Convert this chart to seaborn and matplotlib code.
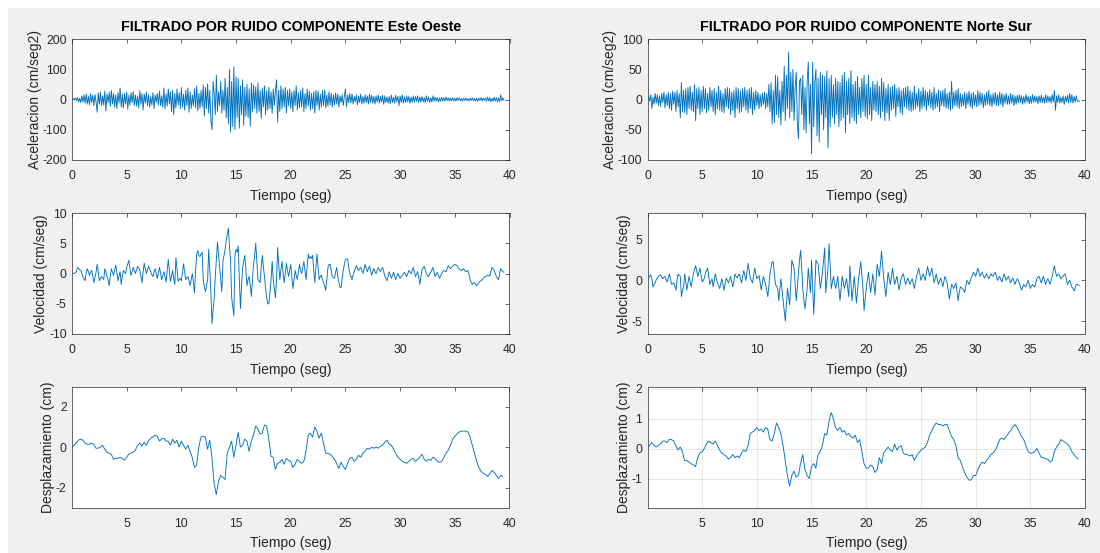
import numpy as np
import pandas as pd
import seaborn as sns
import matplotlib
matplotlib.use("Agg")
import matplotlib.pyplot as plt
from matplotlib.patches import Rectangle

# ---------------------------------------------------------------------------
# Records (filtered), East-West and North-South components
# acceleration and velocity sampled every 0.1 s, displacement every 0.2 s
# ---------------------------------------------------------------------------
dt_fast = 0.1
dt_disp = 0.2

acc_ew = [
    0, 3, -2, 5, -4, 6, -8, 4, -10, 12,
    -8, 15, -12, 18, -15, 10, -18, 20, -10, 14,
    -20, 16, -8, -42, 22, -15, 25, -20, 12, -18,
    28, -38, 18, -10, 24, -22, 30, -15, 20, -25,
    15, -30, 22, -12, 38, -25, 18, -28, 20, -15,
    25, -32, 14, -18, 22, -10, 26, -20, 15, -22,
    12, -28, 30, -15, 20, -35, 18, -12, 25, -20,
    16, -25, 10, -18, 22, -30, 15, -10, 20, -18,
    28, -20, 12, -25, 38, -30, 18, -22, 35, -15,
    25, -40, 30, -50, 20, -28, 35, -18, 22, -30,
    40, -25, 18, -35, 30, -20, 38, -42, 25, -30,
    15, -22, 35, -28, 45, -38, 20, -30, 30, -25,
    48, -55, 40, -30, 52, -45, 30, -70, -100, 60,
    20, -50, 80, -40, 25, -20, 60, -45, 30, -35,
    70, -60, 40, -80, 100, -108, 60, -90, 108, -100,
    75, -60, 70, -95, 45, -50, 65, -85, 40, -55,
    50, -60, 35, -88, 55, -40, 48, -30, 42, -45,
    55, -40, 30, -62, 38, -25, 45, -50, 30, -35,
    40, -30, 25, -45, 35, -20, 30, 65, -75, 30,
    -40, 45, -30, 35, -25, 40, -45, 30, -20, 35,
    -30, 25, -40, 30, -20, 45, -35, 22, -28, 30,
    -25, 38, -40, 20, -30, 35, -22, 28, -35, 20,
    -30, 25, -45, 30, -20, 28, -35, 18, -25, 30,
    -20, 32, -28, 15, -22, 25, -18, 20, -25, 15,
    -18, 22, -15, 18, -25, 12, -10, 15, -20, 10,
    35, -25, 15, -10, 20, -12, 18, -15, 10, -8,
    15, -18, 12, -10, 18, -15, 10, -12, 16, -10,
    12, -15, 18, -10, 14, -12, 10, -15, 12, -8,
    15, -12, 10, -8, 14, -16, 12, -10, 8, -12,
    10, -14, 15, -10, 8, -12, 14, -8, 10, -20,
    12, -10, 15, -12, 8, -10, 12, -8, 10, -12,
    8, -10, 12, -8, 10, -6, 12, -10, 8, -8,
    10, -8, 6, -10, 12, -6, 8, -10, 6, -8,
    12, -6, 8, -5, 6, -8, 5, -6, 8, -5,
    6, -5, 8, -4, 6, -6, 5, -4, 6, -5,
    4, -5, 6, -3, 5, -4, 3, -5, 4, -3,
    5, -4, 3, -5, 4, -3, 6, -4, 3, -5,
    4, -6, 5, -3, 6, -5, 4, -3, 5, -6,
    8, -5, 6, -8, 4, -6, 8, -5, 6, -7,
    5, -8, 15, -4, 5, -3,
]

acc_ns = [
    0, 5, -3, 8, -15, 4, -8, 10, -6, 8,
    -10, 6, -12, 10, -5, 12, -14, 8, -10, 12,
    -15, 10, -18, 14, -8, 12, -20, 15, -12, 10,
    -30, 28, -20, 15, -22, 18, -25, 20, -15, 22,
    -18, 12, -20, 25, -35, 18, -15, 20, -25, 15,
    -20, 22, -15, 18, -22, 10, -18, 20, -12, 15,
    -20, 18, -25, 12, -15, 22, -18, 15, -20, 10,
    -22, 18, -12, 20, -15, 18, -25, 12, -18, 15,
    -30, 20, -15, 18, -22, 14, -20, 18, -12, 20,
    -18, 15, -22, 18, -15, 20, -25, 12, -18, 15,
    -10, 12, -15, 8, -12, 10, -8, 12, -15, 10,
    -12, 25, -20, 28, -40, 15, -38, 40, -25, 38,
    -30, 15, -42, 30, -20, 55, -35, 40, -15, 78,
    -30, 45, -20, 50, -35, 20, 45, -40, -65, 30,
    35, -25, 40, -50, 20, -55, 30, 62, -40, 25,
    -90, 62, -45, 30, 50, -60, 35, -70, 45, -25,
    40, -50, 38, -30, 48, -80, 35, -45, 40, -30,
    25, -40, 35, -25, 30, -45, 28, -35, 40, -30,
    45, -55, 30, -25, 35, -40, 48, -30, 25, -35,
    30, -40, 38, -25, 20, -30, 35, -20, 40, -28,
    25, -32, 40, -25, 20, -35, 30, -18, 25, -20,
    30, -25, 22, -30, 35, -20, 28, -35, 18, -22,
    25, -35, 20, -18, 22, -15, 25, -28, 18, -12,
    20, -22, 15, -25, 18, -12, 20, -15, 22, -18,
    15, -20, 12, -18, 22, -15, 10, -12, 18, -20,
    14, -15, 20, -12, 15, -18, 12, -10, 16, -14,
    12, -18, 20, -15, 10, -12, 16, -20, 14, -10,
    15, -12, 18, -14, 10, -15, 12, -18, 30, -15,
    12, -10, 15, -12, 18, -15, 10, -12, 8, -10,
    12, -15, 10, -8, 14, -12, 10, -15, 12, -10,
    8, -12, 15, -10, 12, -8, 10, -14, 8, -10,
    12, -8, 15, -10, 8, -12, 10, -8, 12, -10,
    8, -10, 12, -8, 10, -12, 8, -6, 10, -8,
    6, -8, 10, -6, 8, -10, 6, -8, 7, -6,
    8, -5, 6, -8, 5, -6, 8, -4, 6, -7,
    5, -6, 8, -5, 6, -4, 5, -7, 6, -5,
    7, -5, 4, -6, 8, -5, 6, -4, 5, -6,
    8, -4, 15, -18, 6, -5, 8, -6, 4, -5,
    6, -8, 5, -4, 7, -6, 10, -5, 8, -6,
    5, -4, 6, -3, -2, -4,
]

vel_ew = [
    0.0, 0.05, 0.0, 0.1, 0.3, 1.0, 0.9, 0.6, 0.5, 0.0,
    -0.5, -0.8, -1.2, 0.2, 0.8, 0.3, -0.3, 0.2, 0.5, -0.5,
    -1.5, -0.6, 0.2, 1.5, 0.3, -1.2, -0.8, -0.5, -0.7, -1.0,
    0.8, 0.2, -0.5, -1.0, -2.0, -0.5, 0.8, 0.2, -0.3, 0.5,
    1.4, 0.2, -1.2, -0.4, 0.3, -1.8, -0.4, 0.5, 0.2, 0.0,
    1.0, 1.6, 2.2, 0.8, -0.3, 0.4, 1.0, 0.5, 0.0, 0.6,
    1.2, 0.9, 0.6, -0.5, -1.5, 0.2, 1.7, 0.8, 0.0, 0.6,
    1.2, 0.8, 0.3, -0.2, -0.5, 0.2, 0.8, 0.0, -0.8, 0.2,
    1.0, 0.0, -1.0, -0.3, 0.3, -0.5, -1.4, 0.5, 2.3, 0.5,
    -1.3, -0.4, 0.5, -0.8, -1.8, 2.6, 0.8, -1.3, -1.0, -0.8,
    -1.2, 0.2, 1.6, 0.3, -1.0, -0.7, -0.5, -1.2, -2.0, -1.0,
    0.0, -1.5, -3.2, 0.5, 3.2, 3.8, 3.0, 2.8, 3.2, 3.5,
    -1.0, -2.2, -3.0, -2.0, -1.0, 4.0, 0.5, -3.0, -8.3, -6.0,
    -4.2, -0.5, 2.5, 5.2, 3.0, 1.0, -1.0, -3.0, 2.0, 3.0,
    4.0, 5.5, 6.5, 7.5, 4.5, 2.0, -4.0, -5.5, -7.0, 3.0,
    4.0, 3.5, 4.5, -1.0, -5.8, -2.0, 1.0, 2.0, 3.0, 0.5,
    -2.0, -1.0, -0.5, -2.0, -3.8, -1.0, 1.5, 3.0, 5.0, 2.0,
    -1.0, -1.2, -1.5, 1.0, 3.0, 1.0, -0.5, -2.5, -4.0, -5.0,
    -5.0, -3.0, -1.0, 2.0, -1.0, -2.5, -4.0, -1.0, 4.3, 1.5,
    -1.0, 0.5, 2.0, 0.0, -1.5, 0.0, 1.7, 0.5, -0.5, 0.5,
    1.5, -0.5, -2.5, -1.0, 0.5, -0.3, -1.0, 0.3, 1.5, 0.5,
    0.0, 1.0, 2.0, 0.5, -1.0, 1.0, 3.2, 2.5, 2.8, 2.5,
    3.0, 0.5, -1.5, 1.0, 3.2, 1.0, -1.0, -0.5, -0.3, -1.0,
    -1.5, -2.0, -2.8, -1.0, 1.0, 1.5, 1.5, 0.5, -0.5, -0.7,
    -0.8, 0.2, 1.0, -0.5, -1.5, -2.3, -2.3, -0.8, 0.5, 1.5,
    2.3, 2.4, 2.4, 1.0, 0.0, -0.5, -1.0, -0.3, 0.3, 0.8,
    1.3, 0.8, 0.5, 0.8, 1.0, 0.5, 0.0, 0.8, 1.5, 0.8,
    0.3, 0.8, 1.2, 0.5, -0.3, 0.3, 0.8, 0.3, 0.0, 0.5,
    1.0, 0.6, 0.3, 0.7, 1.0, 0.3, -0.5, -0.8, -1.2, -0.5,
    0.3, -0.3, -0.8, -0.3, 0.2, -0.4, -1.0, -0.5, 0.0, -0.4,
    -0.8, -0.5, -0.3, 0.0, 0.2, -0.2, -0.5, 0.0, 0.5, 0.2,
    0.0, 0.5, 1.0, 0.3, -0.5, -0.1, 0.3, -0.5, -1.8, -0.6,
    0.6, 0.9, 1.2, 0.6, 0.0, -0.3, -0.5, -0.1, 0.2, 0.6,
    1.0, 0.3, -0.5, -0.1, 0.2, -0.3, -0.8, -0.4, 0.0, 0.3,
    0.5, 0.4, 0.3, 0.8, 1.3, 1.0, 0.8, 1.0, 1.2, 1.4,
    1.5, 1.4, 1.3, 1.0, 0.8, 0.6, 0.5, 0.6, 0.8, 0.5,
    0.3, 0.4, 0.5, -0.2, -1.0, -1.5, -1.8, -1.6, -1.5, -1.8,
    -2.0, -1.8, -1.5, -1.3, -1.2, -1.0, -0.8, -0.6, -0.5, -0.4,
    -0.3, -0.3, -0.4, 0.3, 1.0, 0.8, 0.5, 0.0, -0.5, -0.8,
    -1.0, 0.0, 0.8, 0.5, 0.3, 0.2,
]

vel_ns = [
    0.0, 0.3, 0.5, 0.7, 0.2, -0.8, -0.5, -0.3, 0.1, 0.3,
    0.5, 0.6, 0.7, 0.4, 0.2, 0.4, 0.5, 0.1, -0.2, 0.3,
    0.8, 0.2, -0.5, -0.4, -0.3, -0.7, -1.2, 0.0, 0.8, 0.6,
    0.5, -2.0, -1.2, -0.8, 0.8, -0.2, -1.2, -0.3, 0.5, -0.2,
    -0.8, 0.0, 0.8, 1.3, 1.8, 1.2, 0.5, 1.0, 1.5, 0.6,
    -0.2, 0.0, 0.3, 0.9, 1.2, 1.5, 0.5, -0.5, -0.1, 0.2,
    -0.8, 0.0, 0.8, 0.2, -0.3, -0.6, -1.0, -0.4, 0.2, -0.5,
    -1.2, -0.4, 0.3, 0.0, -0.3, 0.1, 0.5, -0.2, -0.8, 0.0,
    0.8, 0.5, 0.3, 0.6, 0.8, 0.2, -0.3, 0.5, 1.2, 0.6,
    0.0, 1.0, 2.1, 1.2, 0.3, 0.0, -0.3, 0.6, 1.5, 0.8,
    0.2, 0.4, 0.6, -0.3, -1.2, -0.3, 0.5, 0.0, -0.5, -1.2,
    -2.0, -0.6, 0.8, 1.6, 2.3, 2.3, 0.8, -0.5, -0.7, -1.0,
    -2.5, -1.0, 0.2, -1.2, -2.5, -3.8, -5.0, -3.0, -1.0, -2.0,
    -3.0, -0.3, 2.5, 2.0, 1.5, -0.5, -2.5, -0.8, 1.0, 2.5,
    3.7, 1.5, -1.0, -2.5, -3.5, -2.2, -1.0, 1.5, 0.0, -1.5,
    2.5, -1.0, -4.2, -1.0, 2.5, 2.2, 2.0, 0.5, -1.0, 0.0,
    1.0, 2.5, 4.0, -1.5, 0.0, 1.5, 4.5, 2.0, -1.0, -0.3,
    0.5, -0.3, -1.0, -0.3, 0.5, -1.0, -2.5, -1.0, 0.5, -0.2,
    -1.0, -0.4, 0.2, -0.9, -2.0, 1.8, -0.3, -2.5, -1.0, 0.5,
    -1.0, -2.8, -1.3, 0.2, 1.2, 2.3, 0.7, -1.0, -3.7, -2.3,
    -1.0, 0.0, 1.0, -0.3, -1.5, -0.3, 0.8, -0.5, -1.8, 0.1,
    2.0, 1.2, 0.5, 2.0, 3.6, 1.9, 0.2, -0.9, -2.0, -0.5,
    1.0, 0.2, -0.5, 0.5, 1.5, 0.5, -0.5, 0.0, 0.5, -0.3,
    -1.2, -0.4, 0.3, 0.6, 0.8, 0.1, -0.5, -0.1, 0.3, -0.1,
    -0.5, -0.1, 0.2, -0.4, -1.0, -0.2, 0.5, 1.0, 1.5, 0.8,
    0.0, 0.4, 0.8, 0.4, 0.0, 0.9, 1.7, 1.1, 0.5, 1.0,
    1.5, 0.6, -0.3, 0.2, 0.8, 0.1, -0.5, -0.1, 0.3, -0.2,
    -0.8, -0.1, 0.5, 0.1, -0.3, -1.3, -2.3, -1.4, -0.5, -0.7,
    -1.0, -0.6, -0.3, -1.4, -2.5, -1.6, -0.8, -0.9, -1.0, -1.2,
    -1.5, -0.7, 0.0, -0.2, -0.5, -0.1, 0.3, 0.6, 1.0, 0.8,
    0.5, 1.0, 1.5, 1.0, 0.5, 0.8, 1.0, 0.6, 0.3, 0.5,
    0.8, 0.5, 0.2, 0.5, 0.8, 0.6, 0.5, 0.8, 1.0, 0.5,
    0.0, 0.3, 0.5, 0.1, -0.2, 0.3, 0.8, 0.4, 0.0, 0.3,
    0.5, 0.1, -0.3, 0.0, 0.3, -0.1, -0.5, -0.1, 0.2, 0.0,
    -0.3, -0.8, -1.2, -0.8, -0.5, -0.7, -0.8, -0.4, 0.0, -0.5,
    -1.0, -0.7, -0.5, -0.7, -0.8, -0.3, 0.2, 0.4, 0.5, 0.1,
    -0.3, 0.1, 0.5, 0.0, -0.5, -0.1, 0.2, -0.1, -0.5, 0.0,
    0.5, 1.2, 1.8, 1.1, 0.5, 0.7, 0.8, 0.5, 0.2, 0.4,
    0.5, 0.7, 0.8, 0.1, -0.5, -0.2, 0.0, -0.4, -0.8, -1.0,
    -1.3, -0.9, -0.5, -0.5, -0.6, -0.6,
]

disp_ew = [
    0.0, 0.1, 0.2, 0.35, 0.4, 0.35, 0.2, 0.15, 0.15, 0.2,
    0.15, -0.05, -0.05, 0.0, 0.1, -0.1, -0.25, -0.3, -0.35, -0.6,
    -0.55, -0.55, -0.5, -0.55, -0.65, -0.5, -0.35, -0.3, -0.25, -0.15,
    0.1, 0.2, 0.05, 0.25, 0.1, 0.3, 0.45, 0.5, 0.6, 0.55,
    0.3, 0.4, 0.45, 0.3, 0.3, 0.1, 0.4, 0.2, 0.35, 0.0,
    0.3, 0.1, -0.1, 0.1, -0.2, -0.5, -1.0, -0.9, 0.0, 0.5,
    0.55, 0.5, -0.1, 0.35, -0.5, -1.8, -2.35, -1.7, -1.4, -1.5,
    -1.6, -0.3, 0.0, 0.3, -0.5, 0.1, 0.75, 0.0, 0.1, 0.4,
    0.3, -0.2, 0.3, 0.6, 1.05, 0.9, 0.65, 0.7, 1.1, 1.05,
    0.4, -0.45, -0.5, -1.1, -0.8, -0.75, -0.6, -0.85, -0.55, -0.65,
    -0.7, -1.0, -0.85, -0.6, -0.7, -0.8, -0.7, -0.2, 0.6, 0.7,
    0.5, 1.0, 0.8, 0.45, 0.7, 0.2, -0.3, -0.3, -0.35, -0.45,
    -0.6, -0.8, -1.05, -0.75, -0.95, -1.1, -0.8, -0.55, -0.5, -0.7,
    -0.6, -0.4, -0.5, -0.3, -0.2, -0.05, -0.1, 0.0, -0.05, 0.0,
    -0.05, 0.05, 0.1, 0.25, 0.35, 0.15, 0.1, -0.1, -0.3, -0.5,
    -0.6, -0.7, -0.75, -0.8, -0.7, -0.6, -0.55, -0.7, -0.6, -0.5,
    -0.35, -0.6, -0.7, -0.6, -0.65, -0.5, -0.55, -0.7, -0.75, -0.7,
    -0.5, -0.3, -0.15, 0.1, 0.4, 0.55, 0.65, 0.75, 0.8, 0.8,
    0.8, 0.75, 0.5, 0.1, -0.3, -0.7, -1.0, -1.2, -1.3, -1.35,
    -1.45, -1.3, -1.15, -1.25, -1.4, -1.55, -1.4, -1.45,
]

disp_ns = [
    0.0, 0.1, 0.2, 0.1, 0.05, 0.1, 0.15, 0.25, 0.25, 0.2,
    0.3, 0.3, 0.25, 0.1, -0.05, 0.05, -0.1, -0.4, -0.4, -0.45,
    -0.5, -0.55, -0.6, -0.3, -0.15, -0.1, 0.0, 0.15, 0.25, 0.2,
    0.15, 0.25, 0.1, -0.05, -0.15, -0.2, -0.25, -0.35, -0.3, -0.2,
    -0.3, -0.25, -0.3, -0.15, -0.05, -0.1, 0.1, 0.5, 0.55, 0.6,
    0.7, 0.6, 0.65, 0.55, 0.7, 0.65, 0.3, 0.25, 0.5, 0.85,
    0.7, 0.5, 0.1, -0.4, -0.9, -1.25, -0.9, -0.75, -0.95, -0.9,
    -0.5, -0.2, -0.7, -0.9, -1.0, -0.6, -0.5, -0.65, -0.2, -0.1,
    0.1, 0.5, 0.45, 0.9, 1.2, 1.0, 0.7, 0.6, 0.7, 0.55,
    0.6, 0.45, 0.5, 0.4, 0.35, 0.45, 0.2, 0.3, -0.1, -0.5,
    -0.65, -0.65, -0.55, -0.6, -0.8, -0.7, -0.3, -0.5, -0.15, -0.05,
    0.05, -0.05, -0.1, 0.15, -0.05, 0.05, 0.1, -0.15, -0.2, -0.2,
    -0.25, -0.2, -0.4, -0.25, -0.15, -0.05, 0.0, 0.05, 0.2, 0.45,
    0.6, 0.75, 0.85, 0.8, 0.8, 0.75, 0.8, 0.8, 0.6, 0.4,
    0.3, 0.1, -0.3, -0.4, -0.6, -0.8, -0.95, -1.05, -1.05, -0.9,
    -0.9, -0.7, -0.55, -0.45, -0.5, -0.4, -0.3, -0.2, -0.15, -0.05,
    0.1, 0.3, 0.35, 0.3, 0.4, 0.5, 0.6, 0.7, 0.8, 0.7,
    0.55, 0.4, 0.3, 0.1, -0.1, -0.15, -0.15, -0.1, 0.0, -0.15,
    -0.3, -0.3, -0.35, -0.35, -0.45, -0.4, -0.1, 0.05, 0.15, 0.3,
    0.25, 0.2, 0.15, 0.05, -0.1, -0.2, -0.3, -0.35,
]

titles = ["FILTRADO POR RUIDO COMPONENTE Este Oeste",
          "FILTRADO POR RUIDO COMPONENTE Norte Sur"]
x_label = "Tiempo (seg)"
y_labels = ["Aceleracion (cm/seg2)", "Velocidad (cm/seg)", "Desplazamiento (cm)"]

# ---------------------------------------------------------------------------
sns.set_theme(style="white")
plt.rcParams["font.family"] = ["Liberation Sans", "DejaVu Sans"]
plt.rcParams["axes.unicode_minus"] = False

INK = "#262626"
LINE = "#0072BD"
BG = "#f0f0f0"

fig = plt.figure(figsize=(11.0, 5.53), dpi=100, facecolor="white")
fig.patches.append(Rectangle((8 / 1100, 0), 1, 1 - 8 / 553, transform=fig.transFigure,
                             facecolor=BG, edgecolor="none", zorder=-10))

col_left = [72 / 1100, 647.5 / 1100]
col_w = 437.5 / 1100
row_bottom = [1 - 160 / 553, 1 - 334 / 553, 1 - 507.7 / 553]
row_h = 121 / 553


def make_frame(t, y):
    return pd.DataFrame({"t": t, "y": y})


def series_time(values, step):
    return np.arange(len(values)) * step


panels = [
    # (row, col, values, step, ylim, yticks, xticks, xlim, grid)
    (0, 0, acc_ew, dt_fast, (-200, 200), [-200, -100, 0, 100, 200], range(0, 41, 5), (0, 40), False),
    (0, 1, acc_ns, dt_fast, (-100, 100), [-100, -50, 0, 50, 100], range(0, 41, 5), (0, 40), False),
    (1, 0, vel_ew, dt_fast, (-10, 10), [-10, -5, 0, 5, 10], range(0, 41, 5), (0, 40), False),
    (1, 1, vel_ns, dt_fast, (-6.6, 8.3), [-5, 0, 5], range(0, 41, 5), (0, 40), False),
    (2, 0, disp_ew, dt_disp, (-3, 3), [-2, 0, 2], range(5, 41, 5), (0.01, 40), False),
    (2, 1, disp_ns, dt_disp, (-1.97, 2.06), [-1, 0, 1, 2], range(5, 41, 5), (0.01, 40), True),
]

for row, col, vals, step, ylim, yticks, xticks, xlim, grid in panels:
    ax = fig.add_axes([col_left[col], row_bottom[row], col_w, row_h])
    ax.set_facecolor("white")
    df = make_frame(series_time(vals, step), vals)
    sns.lineplot(data=df, x="t", y="y", ax=ax, color=LINE, linewidth=0.65,
                 estimator=None, sort=False, zorder=3)
    ax.set_xlim(*xlim)
    ax.set_ylim(*ylim)
    ax.set_xticks(list(xticks))
    ax.set_yticks(yticks)
    ax.tick_params(axis="both", which="major", direction="in", length=3.2, width=0.5,
                   colors=INK, labelsize=8.7, top=True, right=True,
                   labeltop=False, labelright=False)
    ax.tick_params(axis="x", pad=7.5)
    ax.tick_params(axis="y", pad=3.8)
    for s in ax.spines.values():
        s.set_visible(True)
        s.set_linewidth(0.5)
        s.set_color(INK)
    ax.set_xlabel(x_label, fontsize=10, color=INK, labelpad=4.5)
    ax.set_ylabel(y_labels[row], fontsize=10, color=INK, labelpad=0.5)
    if grid:
        ax.grid(True, color=INK, alpha=0.15, linewidth=0.5)
        ax.set_axisbelow(True)
    else:
        ax.grid(False)
    if row == 0:
        ax.set_title(titles[col], fontsize=10.3, fontweight="bold", color="black", pad=5.5)

fig.savefig("out.png", dpi=100, facecolor=fig.get_facecolor())
